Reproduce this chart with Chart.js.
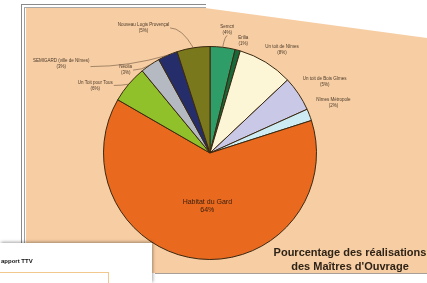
<!DOCTYPE html>
<html><head><meta charset="utf-8">
<script src="https://cdn.jsdelivr.net/npm/chart.js@4/dist/chart.umd.min.js"></script>
<style>
html,body{margin:0;padding:0;background:#fff;width:427px;height:283px;overflow:hidden;position:relative;font-family:"Liberation Sans",Arial,sans-serif;}
#tan{position:absolute;left:0;top:0;width:427px;height:283px;background:#f7cda3;clip-path:polygon(26px 8px,205px 8px,427px 38px,427px 273px,26px 273px);}
#bl1{position:absolute;left:21px;top:4px;width:1px;height:245px;background:#8a8a8a;}
#bl2{position:absolute;left:24px;top:7px;width:1px;height:242px;background:#a0a0a0;}
#bt1{position:absolute;left:21px;top:4px;width:185px;height:1px;background:#8a8a8a;}
#bt2{position:absolute;left:24px;top:7px;width:182px;height:1px;background:#a8a8a8;}
#bb{position:absolute;left:155px;top:273px;width:272px;height:1px;background:#a8a098;}
#c{position:absolute;left:0;top:0;}
#title{position:absolute;left:262px;top:246px;width:176px;text-align:center;font:bold 11px "Liberation Sans",Arial,sans-serif;color:#2e2317;line-height:13.5px;}
#doc{position:absolute;left:0;top:243px;width:152px;height:40px;background:#fff;box-shadow:1px -1px 3px rgba(0,0,0,0.35);}
#doc .t{position:absolute;left:1px;top:15px;font:bold 6px "Liberation Sans",Arial,sans-serif;color:#111;}
#doc .b{position:absolute;left:-1px;top:29px;width:108px;height:20px;border:1px solid #f3c88e;}
</style></head>
<body>
<div id="tan"></div>
<div id="bl1"></div><div id="bl2"></div><div id="bt1"></div><div id="bt2"></div><div id="bb"></div>
<canvas id="c" width="427" height="283"></canvas>
<div id="title">Pourcentage des réalisations<br>des Maîtres d'Ouvrage</div>
<div id="doc"><div class="t">apport TTV</div><div class="b"></div></div>
<script>
// ---- data ----
const categories = ["Semcri","Erilia","Un toit de Nîmes","Un toit de Bois Gîmes","Nîmes Métropole","Habitat du Gard","Un Toit pour Tous","Néolia","SEMIGARD (ville de Nîmes)","Nouveau Logis Provençal"];
const shares = [3.8, 0.8, 8.4, 5.3, 1.8, 63.4, 5.7, 3.0, 3.0, 5.0];
const percentLabels = ["4%","1%","8%","5%","2%","64%","6%","3%","3%","5%"];
const sliceColors = ["#2f9d68","#17683a","#fdf6d6","#c9c8e6","#cdebf3","#e9691f","#90c02a","#b5b9c2","#252e6a","#7a781d"];

// label layout (polar, relative to pie centre: degrees from top, distance in radii), leader flag
const labelLayout = [
  {a:8, d:1.17, lead:true},
  {a:16.5, d:1.10, lead:false},
  {a:35, d:1.18, lead:false},
  {a:58, d:1.27, lead:false},
  {a:68, d:1.25, lead:false},
  {a:0, d:0, lead:false},
  {a:300.5, d:1.25, lead:true},
  {a:314.5, d:1.11, lead:true},
  {a:301, d:1.63, lead:true},
  {a:332, d:1.33, lead:true}
];
const longLineCats = [8];

const labelPlugin = {
  id:'labels',
  afterDatasetsDraw(chart){
    const ctx = chart.ctx;
    const meta = chart.getDatasetMeta(0);
    ctx.save();
    meta.data.forEach((arc,i)=>{
      const p = arc.getProps(['x','y','startAngle','endAngle','outerRadius'],true);
      const mid = (p.startAngle+p.endAngle)/2;
      if(i===5){
        const lx = p.x + Math.cos(mid)*p.outerRadius*0.5;
        const ly = p.y + Math.sin(mid)*p.outerRadius*0.5;
        ctx.font = '7px "Liberation Sans", Arial, sans-serif';
        ctx.fillStyle = '#3a2010';
        ctx.textAlign='center'; ctx.textBaseline='middle';
        ctx.fillText(categories[i], lx+3, ly-4);
        ctx.fillText(percentLabels[i], lx+3, ly+4);
        return;
      }
      const L = labelLayout[i];
      const ang = (L.a-90)*Math.PI/180;
      const lx = p.x + Math.cos(ang)*p.outerRadius*L.d;
      const ly = p.y + Math.sin(ang)*p.outerRadius*L.d;
      ctx.font = '4.5px "Liberation Sans", Arial, sans-serif';
      ctx.fillStyle = '#4a3a2a';
      ctx.textAlign='center'; ctx.textBaseline='middle';
      ctx.fillText(categories[i], lx, ly-3);
      ctx.fillText('('+percentLabels[i]+')', lx, ly+3);
      if(L.lead){
        const ex = p.x + Math.cos(mid)*p.outerRadius;
        const ey = p.y + Math.sin(mid)*p.outerRadius;
        ctx.strokeStyle = '#6b5540';
        ctx.lineWidth = 0.6;
        ctx.beginPath();
        let sx, sy;
        if(Math.abs(ex-lx) < 15){ sx = lx; sy = ly+6; }
        else if(ex>lx){ sx = lx + ctx.measureText(categories[i]).width/2 + 1; sy = ly+ (longLineCats.includes(i)? 3:0); }
        else { sx = lx - ctx.measureText(categories[i]).width/2 - 1; sy = ly; }
        ctx.moveTo(sx, sy);
        ctx.quadraticCurveTo((sx+ex)/2, sy, ex, ey);
        ctx.stroke();
      }
    });
    ctx.restore();
  }
};

new Chart(document.getElementById('c'),{
  type:'pie',
  data:{labels:categories,datasets:[{data:shares,backgroundColor:sliceColors,borderColor:'#3a2810',borderWidth:1}]},
  options:{
    responsive:false,animation:false,
    layout:{padding:{left:103,right:110,top:46,bottom:23}},
    plugins:{legend:{display:false},tooltip:{enabled:false},title:{display:false}}
  },
  plugins:[labelPlugin]
});
</script>
</body></html>
